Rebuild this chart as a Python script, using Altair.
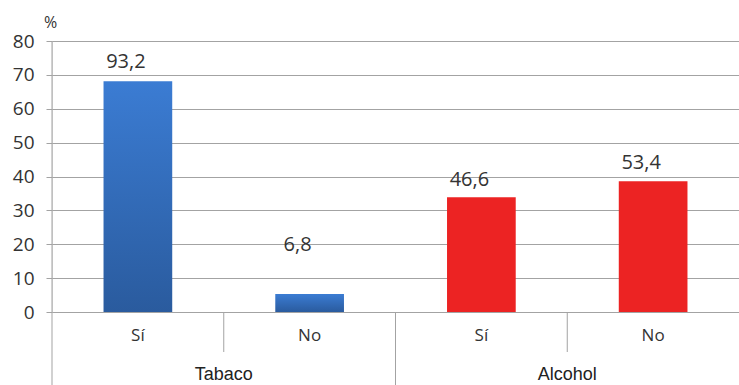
import altair as alt
import pandas as pd

groups = ["Tabaco", "Tabaco", "Alcohol", "Alcohol"]
answers = ["Sí", "No", "Sí", "No"]
bar_values = [68.1, 5.3, 33.9, 38.6]
label_texts = ["93,2", "6,8", "46,6", "53,4"]
label_anchor = [73.8, 19.8, 39.0, 44.0]

keys = [f"{g}|{a}" for g, a in zip(groups, answers)]
df = pd.DataFrame({
    "key": keys, "group": groups, "answer": answers,
    "value": bar_values, "label": label_texts, "label_y": label_anchor,
})

W, H = 687, 271
GRID = "#a3a3a3"
FONT = "Liberation Sans"
NUMFONT = "Open Sans"

xscale = alt.Scale(domain=keys, paddingInner=0, paddingOuter=0)
yscale = alt.Scale(domain=[0, 80], nice=False)
xaxis = alt.Axis(title=None, ticks=False, domain=False, labelAngle=0,
                 labelExpr="split(datum.value, '|')[1]",
                 labelFont=NUMFONT, labelFontSize=17, labelColor="#333333",
                 labelPadding=15)
yaxis = alt.Axis(values=list(range(0, 81, 10)), title="%", titleAngle=0,
                 titleX=-2, titleY=-19, titleAlign="center",
                 titleBaseline="middle", titleFont=NUMFONT, titleFontSize=16,
                 titleFontWeight="normal", titleColor="#333333",
                 labelFont=NUMFONT, labelFontSize=19, labelColor="#333333",
                 labelPadding=12, tickSize=6, tickColor=GRID,
                 labelOverlap=False,
                 domain=False, gridColor=GRID, gridOpacity=1)
x_enc = alt.X("key:N", scale=xscale, sort=keys, axis=xaxis)
y_enc = alt.Y("value:Q", scale=yscale, axis=yaxis)

blue = alt.Gradient(gradient="linear", x1=0, x2=0, y1=0, y2=1,
                    stops=[alt.GradientStop(color="#3b7cd3", offset=0),
                           alt.GradientStop(color="#2a5b9e", offset=1)])

base = alt.Chart(df)
bars_blue = base.transform_filter(alt.datum.group == "Tabaco").mark_bar(
    color=blue, width=alt.RelativeBandSize(0.4)).encode(x=x_enc, y=y_enc)
bars_red = base.transform_filter(alt.datum.group == "Alcohol").mark_bar(
    color="#ec2323", width=alt.RelativeBandSize(0.4)).encode(x=x_enc, y=y_enc)

labels = base.mark_text(font=NUMFONT, fontSize=20, color="#333333", dx=-12,
                        baseline="middle").encode(
    x=x_enc,
    y=alt.Y("label_y:Q", scale=yscale, axis=yaxis),
    text="label:N")

left_line = alt.Chart(pd.DataFrame({"a": [0]})).mark_rule(color=GRID).encode(
    x=alt.value(0), y=alt.value(0), y2=alt.value(H + 73))

short_div = alt.Chart(pd.DataFrame({"key": ["Tabaco|No", "Alcohol|No"]})).mark_rule(
    color=GRID).encode(x=alt.X("key:N", scale=xscale, sort=keys, bandPosition=0, axis=xaxis),
                       y=alt.value(H), y2=alt.value(H + 40))
long_div = alt.Chart(pd.DataFrame({"key": ["Alcohol|Sí"]})).mark_rule(
    color=GRID).encode(x=alt.X("key:N", scale=xscale, sort=keys, bandPosition=0, axis=xaxis),
                       y=alt.value(H), y2=alt.value(H + 73))

group_labels = alt.Chart(pd.DataFrame({"key": ["Tabaco|Sí", "Alcohol|Sí"],
                                       "g": ["Tabaco", "Alcohol"]})).mark_text(
    font=FONT, fontSize=18, color="#222222", baseline="middle").encode(
    x=alt.X("key:N", scale=xscale, sort=keys, bandPosition=1, axis=xaxis),
    y=alt.value(H + 63), text="g:N")

chart = alt.layer(bars_blue, bars_red, labels, left_line, short_div, long_div,
                  group_labels).properties(
    width=W, height=H, autosize="none",
    padding={"left": 52, "top": 41, "right": 0, "bottom": 73}
).configure_view(stroke=None).configure(background="white")

chart.save("out.html", embed_options={"renderer": "svg", "actions": False})
